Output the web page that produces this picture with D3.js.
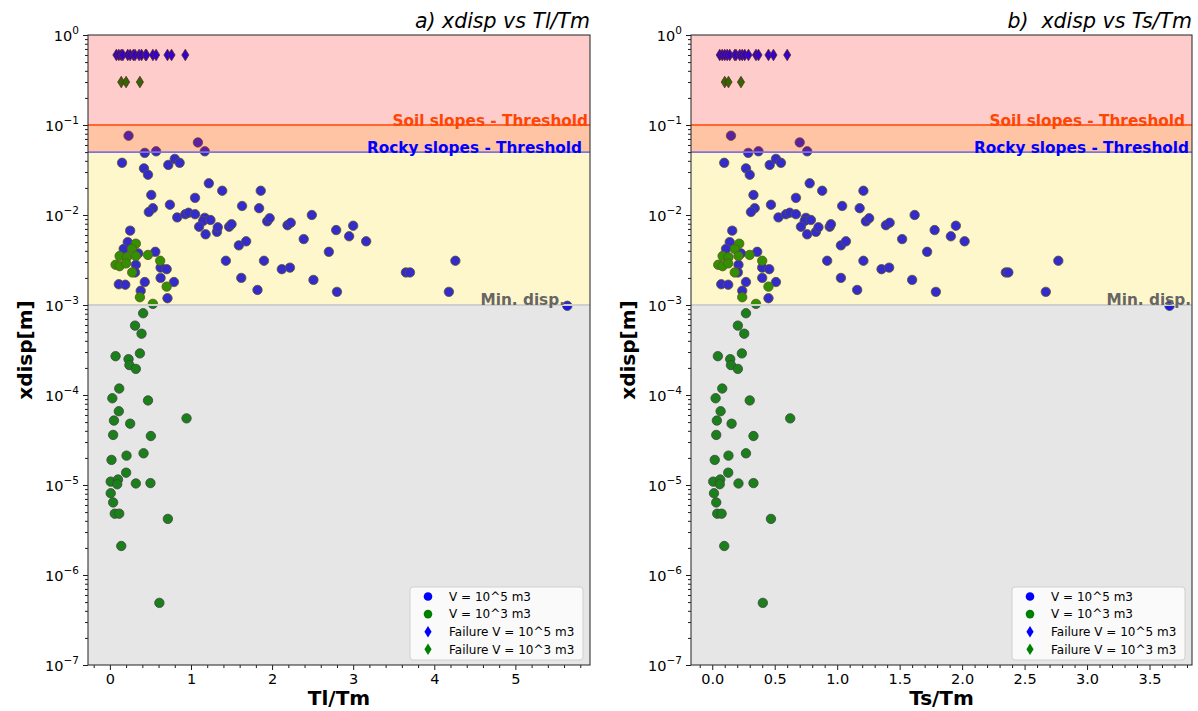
<!DOCTYPE html>
<html><head><meta charset="utf-8">
<script src="https://cdn.jsdelivr.net/npm/d3@7"></script>
<style>
body{margin:0;background:#fff;}
svg{display:block;font-family:"DejaVu Sans",sans-serif;}
</style>
</head><body>
<svg id="c" width="1198" height="711"></svg>
<script>
// ---------- data ----------
const blueY = [0.049,0.051,0.051,0.038,0.033,0.028,0.036,0.042,0.038,0.0225,
  0.0186,0.0186,0.0155,0.0167,0.013,0.0119,0.0108,0.0126,0.0119,0.0094,
  0.0102,0.0106,0.0102,0.0093,0.0086,0.0088,0.0074,0.0061,0.0065,0.0073,
  0.0074,0.0079,0.0085,0.0092,0.0077,0.0082,0.0100,0.0068,0.0067,0.0050,
  0.0042,0.00375,0.0039,0.0028,0.0023,0.0026,0.0025,0.0020,0.0017,0.00168,
  0.0018,0.0018,0.00144,0.00119,0.0031,0.0046,0.0051,0.0031,0.0020,0.00147,
  0.0025,0.0026,0.0054,0.0039,0.0019,0.0014,0.0076,0.0058,0.0051,0.0023,
  0.0023,0.0031,0.0014,0.00098,0.076,0.064];
const blueTl = [0.43,0.57,1.17,0.15,0.42,0.47,0.72,0.80,0.86,1.22,
  1.385,1.86,1.05,0.51,0.74,0.53,0.48,1.63,1.84,0.83,
  0.93,0.97,1.05,1.17,1.15,1.24,1.10,1.18,1.32,1.33,
  1.47,1.50,1.94,1.97,2.19,2.23,2.49,2.79,0.25,0.22,
  0.17,0.35,0.56,0.32,0.31,0.625,0.70,0.625,0.11,0.19,
  0.43,0.79,0.38,0.71,1.43,1.59,1.68,1.90,1.62,1.82,
  2.12,2.22,2.39,2.70,2.51,2.80,3.0,2.95,3.16,3.65,
  3.70,4.26,4.18,5.64,0.23,1.085];
const blueTs = [0.288,0.37,0.76,0.096,0.27,0.30,0.46,0.51,0.55,0.78,
  0.88,1.21,0.67,0.33,0.47,0.34,0.31,1.04,1.18,0.53,
  0.59,0.62,0.67,0.75,0.74,0.79,0.71,0.76,0.83,0.85,
  0.94,0.95,1.23,1.256,1.39,1.42,1.62,1.78,0.16,0.14,
  0.11,0.23,0.36,0.21,0.205,0.40,0.456,0.40,0.072,0.128,
  0.27,0.51,0.24,0.45,0.92,1.03,1.07,1.21,1.03,1.16,
  1.355,1.416,1.52,1.72,1.60,1.79,1.95,1.91,2.02,2.35,
  2.37,2.77,2.67,3.66,0.15,0.70];

const greenY = [0.0048,0.0042,0.0035,0.0034,0.0035,0.0036,0.0028,0.0027,0.0029,0.0031,
  0.0023,0.0016,0.00122,0.00103,0.00081,0.00059,0.00048,0.00027,0.00025,0.00029,
  0.000215,0.000195,0.000118,0.000092,0.000087,0.000066,0.000052,0.000048,0.000055,0.000036,
  0.000035,0.000019,0.0000212,0.0000225,0.0000137,0.0000109,0.0000115,0.0000102,0.0000104,0.0000105,
  0.0000081,0.0000064,0.0000048,0.0000048,0.0000042,0.0000021,4.9e-7];
const greenTl = [0.32,0.27,0.12,0.21,0.32,0.47,0.07,0.12,0.20,0.62,
  0.275,0.70,0.37,0.53,0.41,0.31,0.39,0.07,0.23,0.37,
  0.24,0.32,0.115,0.03,0.47,0.11,0.05,0.25,0.945,0.04,
  0.505,0.02,0.205,0.415,0.20,0.01,0.10,0.09,0.32,0.50,
  0.01,0.04,0.06,0.115,0.715,0.14,0.61];
const greenTs = [0.216,0.18,0.083,0.13,0.21,0.30,0.048,0.083,0.128,0.40,
  0.18,0.45,0.24,0.35,0.27,0.205,0.256,0.045,0.144,0.237,
  0.15,0.205,0.08,0.027,0.30,0.067,0.037,0.155,0.624,0.032,
  0.33,0.02,0.13,0.27,0.128,0.008,0.064,0.06,0.21,0.33,
  0.014,0.032,0.04,0.075,0.47,0.096,0.405];

const failBlueY = 0.6, failGreenY = 0.3;
const failBlueTl = [0.08,0.11,0.14,0.16,0.22,0.25,0.29,0.31,0.36,0.39,0.44,0.45,0.53,0.57,0.71,0.76,0.93];
const failBlueTs = [0.06,0.08,0.10,0.12,0.14,0.18,0.19,0.22,0.24,0.26,0.29,0.35,0.37,0.45,0.49,0.60];
const failGreenTl = [0.14,0.20,0.37];
const failGreenTs = [0.10,0.13,0.23];

const soilThreshold = 0.1, rockyThreshold = 0.05, minDisp = 0.001;
const yDecades = [1e-7,1e-6,1e-5,1e-4,1e-3,1e-2,1e-1,1];
const yDecadeExp = ["−7","−6","−5","−4","−3","−2","−1","0"];
const xTicksTl = [0,1,2,3,4,5];
const xTicksTs = [0,0.5,1,1.5,2,2.5,3,3.5];
const legendLabels = ["V = 10^5 m3","V = 10^3 m3","Failure V = 10^5 m3","Failure V = 10^3 m3"];

// ---------- drawing ----------
const svg = d3.select("#c");
const yTop = 35, yBot = 665;
const y = d3.scaleLog().domain([1e-7,1]).range([yBot,yTop]);

const thinDiamond = {draw(ctx,size){const h=Math.sqrt(size)*0.55,w=h*0.62;
  ctx.moveTo(0,-h);ctx.lineTo(w,0);ctx.lineTo(0,h);ctx.lineTo(-w,0);ctx.closePath();}};
const circ = d3.symbol().type(d3.symbolCircle).size(Math.PI*4.7*4.7)();
const diam = d3.symbol().type(thinDiamond).size(110)();
const legCirc = d3.symbol().type(d3.symbolCircle).size(Math.PI*4.3*4.3)();

const panels = [
  {x0:88,x1:590,dom:[-0.27,5.92],title:"a) xdisp vs Tl/Tm",xlabel:"Tl/Tm",
   bx:blueTl,gx:greenTl,fb:failBlueTl,fg:failGreenTl,ticks:xTicksTl,fmt:d3.format("d"),
   minor:d3.range(-2,30).map(i=>i*0.2),soilOff:2,rockyOff:8,minOff:25},
  {x0:691,x1:1192,dom:[-0.17,3.84],title:"b)  xdisp vs Ts/Tm",xlabel:"Ts/Tm",
   bx:blueTs,gx:greenTs,fb:failBlueTs,fg:failGreenTs,ticks:xTicksTs,fmt:d3.format(".1f"),
   minor:d3.range(-1,39).map(i=>i*0.1),soilOff:7,rockyOff:3,minOff:1}
];

panels.forEach((p,pi)=>{
  const x = d3.scaleLinear().domain(p.dom).range([p.x0,p.x1]);
  const g = svg.append("g");
  const cid = "clip"+pi;
  svg.append("clipPath").attr("id",cid).append("rect")
    .attr("x",p.x0).attr("y",yTop).attr("width",p.x1-p.x0).attr("height",yBot-yTop);
  const plot = g.append("g").attr("clip-path",`url(#${cid})`);
  plot.append("rect").attr("x",p.x0).attr("y",yTop).attr("width",p.x1-p.x0).attr("height",yBot-yTop).attr("fill","#fff");

  // points
  plot.selectAll(".b").data(blueY.map((v,i)=>[p.bx[i],v])).enter().append("path")
    .attr("d",circ).attr("transform",d=>`translate(${x(d[0])},${y(d[1])})`)
    .attr("fill","#0000ff").attr("stroke","#333").attr("stroke-width",0.8);
  plot.selectAll(".g").data(greenY.map((v,i)=>[p.gx[i],v])).enter().append("path")
    .attr("d",circ).attr("transform",d=>`translate(${x(d[0])},${y(d[1])})`)
    .attr("fill","#008000").attr("stroke","#333").attr("stroke-width",0.8);
  plot.selectAll(".fb").data(p.fb).enter().append("path")
    .attr("d",diam).attr("transform",d=>`translate(${x(d)},${y(failBlueY)})`)
    .attr("fill","#0000ff").attr("stroke","#333").attr("stroke-width",0.8);
  plot.selectAll(".fg").data(p.fg).enter().append("path")
    .attr("d",diam).attr("transform",d=>`translate(${x(d)},${y(failGreenY)})`)
    .attr("fill","#008000").attr("stroke","#333").attr("stroke-width",0.8);

  // translucent bands over the points
  const band=(lo,hi,col)=>plot.append("rect").attr("x",p.x0).attr("width",p.x1-p.x0)
    .attr("y",y(hi)).attr("height",y(lo)-y(hi)).attr("fill",col).attr("fill-opacity",0.2);
  band(rockyThreshold,1,"#ff0000");
  band(rockyThreshold,soilThreshold,"#ffa500");
  band(minDisp,rockyThreshold,"#ffd700");
  band(1e-7,minDisp,"#808080");

  const hline=(v,col,w)=>plot.append("line").attr("x1",p.x0).attr("x2",p.x1)
    .attr("y1",y(v)).attr("y2",y(v)).attr("stroke",col).attr("stroke-width",w);
  hline(soilThreshold,"#ff4500",1.5);
  hline(rockyThreshold,"#7f74dc",1.8);
  hline(minDisp,"#cfcfcb",2.2);

  // annotations
  g.append("text").attr("x",p.x1-p.soilOff).attr("y",y(soilThreshold)+1).attr("text-anchor","end")
    .attr("font-size",15.3).attr("font-weight","bold").attr("fill","#ff4500").text("Soil slopes - Threshold");
  g.append("text").attr("x",p.x1-p.rockyOff).attr("y",y(rockyThreshold)+1).attr("text-anchor","end")
    .attr("font-size",15.3).attr("font-weight","bold").attr("fill","#0000ff").text("Rocky slopes - Threshold");
  g.append("text").attr("x",p.x1-p.minOff).attr("y",y(minDisp)-0.5).attr("text-anchor","end")
    .attr("font-size",15.3).attr("font-weight","bold").attr("fill","#666").text("Min. disp.");

  // axes
  const xa = g.append("g").attr("transform",`translate(0,${yBot})`)
    .call(d3.axisBottom(x).tickValues(p.ticks).tickFormat(p.fmt).tickSize(5).tickPadding(4));
  const minorX = p.minor.filter(v=>v>=p.dom[0]&&v<=p.dom[1]&&!p.ticks.some(t=>Math.abs(t-v)<1e-6));
  g.append("g").attr("transform",`translate(0,${yBot})`)
    .call(d3.axisBottom(x).tickValues(minorX).tickFormat("").tickSize(3));
  xa.selectAll("text").attr("font-size",14.5).attr("fill","#000").attr("font-family","DejaVu Sans");
  g.append("g").attr("transform",`translate(${p.x0},0)`)
    .call(d3.axisLeft(y).tickValues(yDecades).tickFormat("").tickSize(5));
  const minorY=[];yDecades.slice(0,-1).forEach(d=>{for(let k=2;k<10;k++)minorY.push(d*k);});
  g.append("g").attr("transform",`translate(${p.x0},0)`)
    .call(d3.axisLeft(y).tickValues(minorY).tickFormat("").tickSize(3));
  g.selectAll(".domain").remove();
  g.selectAll(".tick line").attr("stroke","#000").attr("stroke-width",0.9);
  yDecades.forEach((d,i)=>{
    const t=g.append("text").attr("x",p.x0-9).attr("y",y(d)+6).attr("text-anchor","end")
      .attr("font-size",14.5).attr("fill","#000");
    t.append("tspan").text("10");
    t.append("tspan").attr("dy",-7).attr("font-size",10.5).text(yDecadeExp[i]);
  });
  // spines
  g.append("rect").attr("x",p.x0).attr("y",yTop).attr("width",p.x1-p.x0).attr("height",yBot-yTop)
    .attr("fill","none").attr("stroke","#333").attr("stroke-width",1.1);

  // labels
  g.append("text").attr("x",(p.x0+p.x1)/2).attr("y",705).attr("text-anchor","middle")
    .attr("font-size",20).attr("font-weight","bold").text(p.xlabel);
  g.append("text").attr("transform",`translate(${p.x0-56},${(yTop+yBot)/2}) rotate(-90)`)
    .attr("text-anchor","middle").attr("font-size",20).attr("font-weight","bold").text("xdisp[m]");
  g.append("text").attr("x",p.x1).attr("y",28).attr("text-anchor","end").attr("xml:space","preserve")
    .style("white-space","pre").attr("font-size",20.5).attr("font-style","italic").text(p.title);

  // legend
  const lw=173, lh=73, lx=p.x1-7-lw, ly=yBot-5-lh;
  const lg=g.append("g");
  lg.append("rect").attr("x",lx).attr("y",ly).attr("width",lw).attr("height",lh).attr("rx",3)
    .attr("fill","#fff").attr("fill-opacity",0.8).attr("stroke","#d0d0d0").attr("stroke-width",1);
  const cols=["#0000ff","#008000","#0000ff","#008000"];
  legendLabels.forEach((lab,i)=>{
    const cy=ly+9.5+i*17.6;
    lg.append("path").attr("d",i<2?legCirc:diam).attr("transform",`translate(${lx+18},${cy})`).attr("fill",cols[i]);
    lg.append("text").attr("x",lx+39).attr("y",cy+4.3).attr("font-size",12).text(lab);
  });
});
</script>
</body></html>
